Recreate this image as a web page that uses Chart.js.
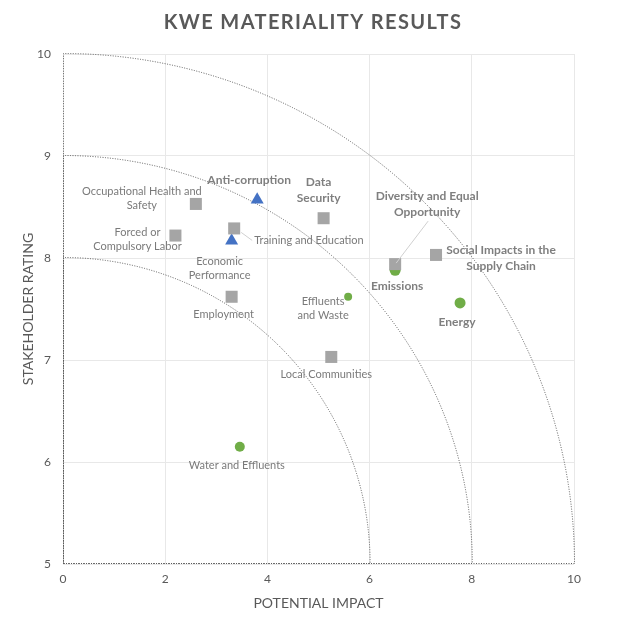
<!DOCTYPE html>
<html>
<head>
<meta charset="utf-8">
<script src="https://cdn.jsdelivr.net/npm/chart.js@4"></script>
<style>
  html, body { margin: 0; padding: 0; background: #fff; }
  #wrap { width: 624px; height: 627px; }
</style>
</head>
<body>
<div id="wrap"><canvas id="materialityChart" width="624" height="627"></canvas></div>
<script>
// datos del grafico
const chartTitle = 'KWE MATERIALITY RESULTS';
const xAxisTitle = 'POTENTIAL IMPACT';
const yAxisTitle = 'STAKEHOLDER RATING';

const squareTopics = ['Occupational Health and Safety', 'Forced or Compulsory Labor', 'Training and Education',
    'Employment', 'Data Security', 'Diversity and Equal Opportunity', 'Social Impacts in the Supply Chain', 'Local Communities'];
const squareImpact = [2.6, 2.2, 3.35, 3.3, 5.1, 6.5, 7.3, 5.25];
const squareRating = [8.53, 8.22, 8.29, 7.62, 8.39, 7.94, 8.03, 7.03];

const triangleTopics = ['Anti-corruption', 'Economic Performance'];
const triangleImpact = [3.8, 3.3];
const triangleRating = [8.57, 8.17];

const circleTopics = ['Emissions', 'Effluents and Waste', 'Energy', 'Water and Effluents'];
const circleImpact = [6.5, 5.58, 7.77, 3.46];
const circleRating = [7.88, 7.62, 7.56, 6.15];

const arcImpact = [6, 8, 10];   // radio en x de cada arco
const arcRating = [8, 9, 10];   // altura en y de cada arco
const xTicks = [0, 2, 4, 6, 8, 10];
const yTicks = [5, 6, 7, 8, 9, 10];

// donde va cada etiqueta respecto a su punto (solo diseño)
const labelLayout = {
    'Occupational Health and Safety': { lines: ['Occupational Health and', 'Safety'], dx: -54, dy: -12, bold: false },
    'Forced or Compulsory Labor': { lines: ['Forced or', 'Compulsory Labor'], dx: -38, dy: -3, bold: false },
    'Training and Education': { lines: ['Training and Education'], dx: 20, dy: 12, bold: false, align: 'left', leader: [7, 4, 18, 12] },
    'Employment': { lines: ['Employment'], dx: -8, dy: 18, bold: false },
    'Data Security': { lines: ['Data', 'Security'], dx: -5, dy: -36, bold: true },
    'Diversity and Equal Opportunity': { lines: ['Diversity and Equal', 'Opportunity'], dx: 32, dy: -68, bold: true, leader: [1, -1, 33, -43] },
    'Social Impacts in the Supply Chain': { lines: ['Social Impacts in the', 'Supply Chain'], dx: 65, dy: -5, bold: true },
    'Local Communities': { lines: ['Local Communities'], dx: -5, dy: 18, bold: false },
    'Anti-corruption': { lines: ['Anti-corruption'], dx: -8, dy: -20, bold: true },
    'Economic Performance': { lines: ['Economic', 'Performance'], dx: -12, dy: 21, bold: false },
    'Emissions': { lines: ['Emissions'], dx: 2, dy: 16, bold: true },
    'Effluents and Waste': { lines: ['Effluents', 'and Waste'], dx: -25, dy: 5, bold: false },
    'Energy': { lines: ['Energy'], dx: -3, dy: 19, bold: true },
    'Water and Effluents': { lines: ['Water and Effluents'], dx: -3, dy: 19, bold: false }
};

const FONT = 'Lato, "Open Sans", sans-serif';

function toPoints(xs, ys, names) {
    return xs.map((x, i) => ({ x: x, y: ys[i], name: names[i] }));
}

// arcos punteados (cuartos de elipse desde el origen 0,5)
const arcsPlugin = {
    id: 'arcs',
    beforeDatasetsDraw(chart) {
        const { ctx, scales: { x, y } } = chart;
        const cx = x.getPixelForValue(0);
        const cy = y.getPixelForValue(5);
        ctx.save();
        ctx.strokeStyle = '#595959';
        ctx.lineWidth = 1;
        ctx.setLineDash([1, 1.5]);
        arcImpact.forEach((r, i) => {
            const rx = x.getPixelForValue(r) - cx;
            const ry = cy - y.getPixelForValue(arcRating[i]);
            ctx.beginPath();
            ctx.moveTo(cx + 0.5, cy - 0.5);
            ctx.lineTo(cx + rx, cy - 0.5);
            ctx.ellipse(cx + 0.5, cy - 0.5, rx, ry, 0, 0, -Math.PI / 2, true);
            ctx.closePath();
            ctx.stroke();
        });
        ctx.restore();
    }
};

// titulo y etiquetas de los puntos
const labelsPlugin = {
    id: 'pointLabels',
    afterDatasetsDraw(chart) {
        const ctx = chart.ctx;
        ctx.save();
        chart.data.datasets.forEach((ds, di) => {
            const meta = chart.getDatasetMeta(di);
            meta.data.forEach((pt, i) => {
                const item = ds.data[i];
                const lay = labelLayout[item.name];
                if (!lay) return;
                if (lay.leader) {
                    ctx.strokeStyle = '#D0D0D0';
                    ctx.lineWidth = 1;
                    ctx.beginPath();
                    ctx.moveTo(pt.x + lay.leader[0], pt.y + lay.leader[1]);
                    ctx.lineTo(pt.x + lay.leader[2], pt.y + lay.leader[3]);
                    ctx.stroke();
                }
                ctx.fillStyle = lay.bold ? '#7F7F7F' : '#7A7A7A';
                ctx.font = (lay.bold ? 'bold 12px ' : '11px ') + FONT;
                ctx.textAlign = lay.align || 'center';
                ctx.textBaseline = 'middle';
                const lh = lay.bold ? 16 : 14;
                lay.lines.forEach((line, k) => {
                    ctx.fillText(line, pt.x + lay.dx, pt.y + lay.dy + k * lh);
                });
            });
        });
        ctx.fillStyle = '#595959';
        ctx.font = 'bold 20px ' + FONT;
        ctx.textAlign = 'center';
        ctx.textBaseline = 'middle';
        ctx.letterSpacing = '1.4px';
        ctx.fillText(chartTitle, 313, 23);
        ctx.restore();
    }
};

const ctx = document.getElementById('materialityChart').getContext('2d');

const myChart = new Chart(ctx, {
    type: 'scatter',
    data: {
        datasets: [
            {
                label: 'Social',
                data: toPoints(squareImpact, squareRating, squareTopics),
                pointStyle: 'rect',
                pointRadius: 8.5,
                backgroundColor: '#A5A5A5',
                borderColor: '#A5A5A5',
                borderWidth: 0
            },
            {
                label: 'Economic',
                data: toPoints(triangleImpact, triangleRating, triangleTopics),
                pointStyle: 'triangle',
                pointRadius: 7.5,
                backgroundColor: '#4472C4',
                borderColor: '#4472C4',
                borderWidth: 0
            },
            {
                label: 'Environmental',
                data: toPoints(circleImpact, circleRating, circleTopics),
                pointStyle: 'circle',
                pointRadius: [5.5, 4, 5.5, 5],
                backgroundColor: '#70AD47',
                borderColor: '#70AD47',
                borderWidth: 0
            }
        ]
    },
    options: {
        responsive: false,
        animation: false,
        layout: { padding: { top: 54, right: 50, left: 0, bottom: 0 } },
        plugins: {
            legend: { display: false },
            tooltip: { enabled: false },
            title: { display: false }
        },
        scales: {
            x: {
                type: 'linear',
                min: 0,
                max: 10,
                afterBuildTicks: (scale) => { scale.ticks = xTicks.map(v => ({ value: v })); },
                afterFit: (scale) => { scale.height = 63; },
                border: { display: false },
                grid: { color: '#E8E8E8', drawTicks: false },
                ticks: { color: '#595959', font: { family: FONT, size: 12 }, padding: 8 },
                title: {
                    display: true,
                    text: xAxisTitle,
                    color: '#595959',
                    font: { family: FONT, size: 14 },
                    padding: { top: 0, bottom: 15 }
                }
            },
            y: {
                type: 'linear',
                min: 5,
                max: 10,
                afterBuildTicks: (scale) => { scale.ticks = yTicks.map(v => ({ value: v })); },
                afterFit: (scale) => { scale.width = 63; },
                border: { display: false },
                grid: { color: '#E8E8E8', drawTicks: false },
                ticks: { color: '#595959', font: { family: FONT, size: 12 }, padding: 12 },
                title: {
                    display: true,
                    text: yAxisTitle,
                    color: '#595959',
                    font: { family: FONT, size: 14 },
                    padding: { top: 20, bottom: 0 }
                }
            }
        }
    },
    plugins: [arcsPlugin, labelsPlugin]
});
</script>
</body>
</html>
